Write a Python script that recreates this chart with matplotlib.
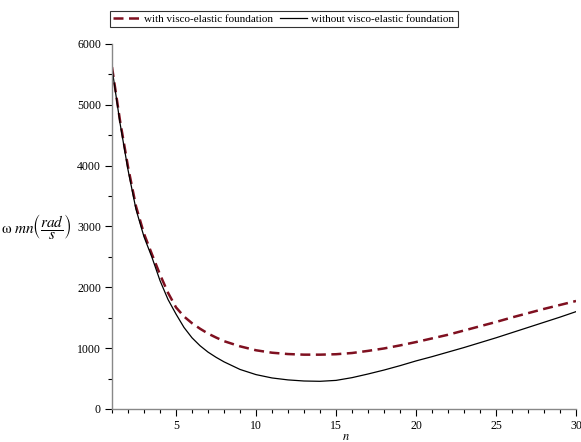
import matplotlib.pyplot as plt
from matplotlib.ticker import MultipleLocator

plt.rcParams.update({
    "font.family": "serif",
    "font.serif": ["Liberation Serif", "DejaVu Serif"],
    "mathtext.fontset": "stix",
    "font.size": 8.5,
})

# mode number n (denser where the curves drop steeply)
n = [1, 1.5, 2, 2.5, 3, 3.5, 4, 4.5, 5, 5.5, 6, 6.5, 7, 7.5, 8, 9, 10,
     11, 12, 13, 14, 15, 16, 17, 18, 19, 20,
     21, 22, 23, 24, 25, 26, 27, 28, 29, 30]

# natural frequency (rad/s)
with_found = [5620, 4740, 3980, 3330, 2880, 2540, 2210, 1910, 1670, 1520,
              1410, 1320, 1240, 1175, 1115, 1030, 965,
              925, 903, 893, 893, 900, 920, 955, 995, 1045, 1100,
              1160, 1220, 1290, 1360, 1430, 1505, 1575, 1645, 1710, 1775]
without_found = [5600, 4700, 3930, 3280, 2830, 2490, 2110, 1800, 1560, 1340,
                 1170, 1040, 935, 850, 775, 650, 565,
                 510, 478, 460, 455, 470, 515, 575, 640, 712, 790,
                 860, 935, 1010, 1090, 1170, 1255, 1340, 1425, 1510, 1600]

fig = plt.figure(figsize=(5.81, 4.42), dpi=100)
ax = fig.add_axes([0.1928, 0.0747, 0.7986, 0.8258])

ax.plot(n, with_found, color='#7f1020', linewidth=1.8,
        linestyle=(0, (4, 2.2)), label='with visco-elastic foundation')
ax.plot(n, without_found, color='black', linewidth=0.9,
        label='without visco-elastic foundation')

ax.set_xlim(1, 30)
ax.set_ylim(0, 6000)
ax.set_xticks([5, 10, 15, 20, 25, 30])
ax.xaxis.set_minor_locator(MultipleLocator(1))
ax.set_yticks(range(0, 6001, 1000))
ax.yaxis.set_minor_locator(MultipleLocator(500))

for side in ['top', 'right']:
    ax.spines[side].set_visible(False)
for side in ['left', 'bottom']:
    ax.spines[side].set_color('#888888')
    ax.spines[side].set_linewidth(1.0)
ax.tick_params(which='major', direction='out', length=5, width=0.8,
               color='black', pad=3)
ax.tick_params(which='minor', direction='out', length=3, width=0.8,
               color='black')

ax.text(-0.088, 0.5, r'$\mathrm{\omega}\ mn\left(\dfrac{rad}{s}\right)$',
        transform=ax.transAxes, ha='right', va='center', fontsize=11)
ax.text(0.505, -0.078, r'$n$', transform=ax.transAxes,
        ha='center', va='center', fontsize=9)

leg = fig.legend(loc='upper left', bbox_to_anchor=(110 / 581, 1 - 11 / 442),
                 ncol=2, frameon=True, fancybox=False, fontsize=8,
                 handlelength=2.4, columnspacing=0.6, handletextpad=0.4,
                 borderpad=0.3, borderaxespad=0)
leg.get_frame().set_edgecolor('black')
leg.get_frame().set_linewidth(0.8)

fig.savefig('out.png', dpi=100)
